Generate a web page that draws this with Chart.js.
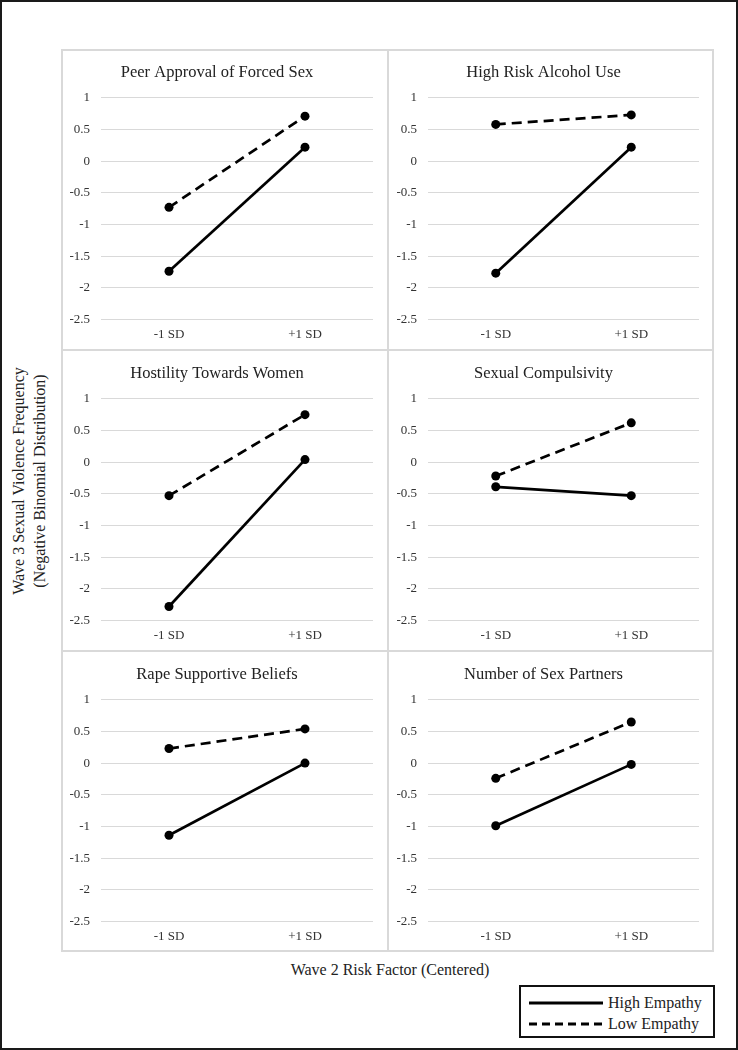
<!DOCTYPE html>
<html>
<head>
<meta charset="utf-8">
<script src="https://cdn.jsdelivr.net/npm/chart.js@4.4.1/dist/chart.umd.min.js"></script>
<style>
  body { margin: 0; background: #fff; }
  #page {
    position: relative; width: 738px; height: 1050px; box-sizing: border-box;
    border: 2px solid #1a1a1a; background: #fff; overflow: hidden;
    font-family: "Liberation Serif", "Times New Roman", serif; color: #222;
  }
  .panel { position: absolute; }
  .rule { position: absolute; background: #d9d9d9; }
  .ytitle {
    position: absolute; width: 320px; height: 42px; line-height: 21px;
    left: -133px; top: 458px; text-align: center; font-size: 16px;
    transform: rotate(-90deg);
  }
  .xtitle {
    position: absolute; left: 188px; width: 400px; top: 959px;
    text-align: center; font-size: 16px;
  }
  .legend {
    position: absolute; left: 517px; top: 983px; width: 196px; height: 53px;
    box-sizing: border-box; border: 2px solid #111; font-size: 16px;
  }
  .legend .row { position: absolute; left: 8px; height: 20px; line-height: 20px; }
  .legend svg { position: absolute; left: 0; top: 8px; }
  .legend span { position: absolute; left: 79px; white-space: nowrap; }
</style>
</head>
<body>
<div id="page">
  <div class="ytitle">Wave 3 Sexual Violence Frequency<br>(Negative Binomial Distribution)</div>
  <div class="xtitle">Wave 2 Risk Factor (Centered)</div>
  <div class="legend">
    <div class="row" style="top:6px">
      <svg width="74" height="4"><line x1="0" y1="2" x2="74" y2="2" stroke="#000" stroke-width="3"/></svg>
      <span>High Empathy</span>
    </div>
    <div class="row" style="top:27px">
      <svg width="74" height="4"><line x1="0" y1="2" x2="74" y2="2" stroke="#000" stroke-width="3" stroke-dasharray="8 5"/></svg>
      <span>Low Empathy</span>
    </div>
  </div>
</div>
<script>
// DATA
const categories = ["-1 SD", "+1 SD"];
const panelTitles = [
  "Peer Approval of Forced Sex",
  "High Risk Alcohol Use",
  "Hostility Towards Women",
  "Sexual Compulsivity",
  "Rape Supportive Beliefs",
  "Number of Sex Partners",
];
const highEmpathy = [
  [-1.74, 0.22],
  [-1.77, 0.22],
  [-2.28, 0.04],
  [-0.39, -0.53],
  [-1.14, 0.0],
  [-0.99, -0.02],
];
const lowEmpathy = [
  [-0.73, 0.71],
  [0.58, 0.73],
  [-0.53, 0.75],
  [-0.22, 0.62],
  [0.23, 0.54],
  [-0.24, 0.65],
];
const yTicks = [1, 0.5, 0, -0.5, -1, -1.5, -2, -2.5];

// LAYOUT
const colX = [61, 388];
const colW = [327, 326];
const rowY = [49, 350, 651];
const rowH = 301;
const serif = "'Liberation Serif', 'Times New Roman', serif";

function addRule(page, left, top, width, height) {
  const r = document.createElement("div");
  r.className = "rule";
  Object.assign(r.style, {
    left: left + "px", top: top + "px", width: width + "px", height: height + "px",
  });
  page.appendChild(r);
}

function makePanel(page, i) {
  const col = i % 2;
  const row = Math.floor(i / 2);
  const wrap = document.createElement("div");
  wrap.className = "panel";
  wrap.style.left = colX[col] - 2 + "px";
  wrap.style.top = rowY[row] - 2 + "px";
  const canvas = document.createElement("canvas");
  canvas.width = colW[col];
  canvas.height = rowH;
  wrap.appendChild(canvas);
  page.appendChild(wrap);

  const lineStyle = {
    borderColor: "#000",
    backgroundColor: "#000",
    borderWidth: 2.7,
    pointRadius: 4.5,
    pointBorderWidth: 0,
    tension: 0,
  };

  new Chart(canvas, {
    type: "line",
    data: {
      labels: categories,
      datasets: [
        { label: "High Empathy", data: highEmpathy[i], ...lineStyle },
        { label: "Low Empathy", data: lowEmpathy[i], borderDash: [10, 6], ...lineStyle },
      ],
    },
    options: {
      responsive: false,
      animation: false,
      layout: { padding: { top: 0, right: 15, bottom: 1, left: 0 } },
      plugins: {
        legend: { display: false },
        tooltip: { enabled: false },
        title: {
          display: true,
          text: panelTitles[i],
          color: "#222",
          font: { family: serif, size: 16.5, weight: "normal" },
          padding: { top: 14, bottom: 15 },
        },
      },
      scales: {
        x: {
          offset: true,
          grid: { display: false, drawTicks: false },
          border: { display: false },
          ticks: { color: "#333", padding: 7, font: { family: serif, size: 13 } },
        },
        y: {
          min: yTicks[yTicks.length - 1],
          max: yTicks[0],
          afterFit: (scale) => { scale.width = 40; },
          grid: { color: "#d9d9d9", drawTicks: false },
          border: { display: false },
          ticks: {
            stepSize: yTicks[0] - yTicks[1],
            color: "#333",
            padding: 11,
            font: { family: serif, size: 13 },
            callback: (v) => String(v),
          },
        },
      },
    },
  });
}

document.addEventListener("DOMContentLoaded", () => {
  const page = document.querySelector("#page");
  for (let i = 0; i < panelTitles.length; i++) makePanel(page, i);

  // panel frame, light grey like the reference
  const left = colX[0] - 2, top = rowY[0] - 2;
  const right = colX[1] + colW[1] - 2, bottom = rowY[2] + rowH - 2;
  addRule(page, left, top, right - left, 2);
  addRule(page, left, bottom - 2, right - left, 2);
  addRule(page, left, top, 2, bottom - top);
  addRule(page, right - 2, top, 2, bottom - top);
  addRule(page, colX[1] - 3, top, 2, bottom - top);
  addRule(page, left, rowY[1] - 3, right - left, 2);
  addRule(page, left, rowY[2] - 3, right - left, 2);
});
</script>
</body>
</html>
